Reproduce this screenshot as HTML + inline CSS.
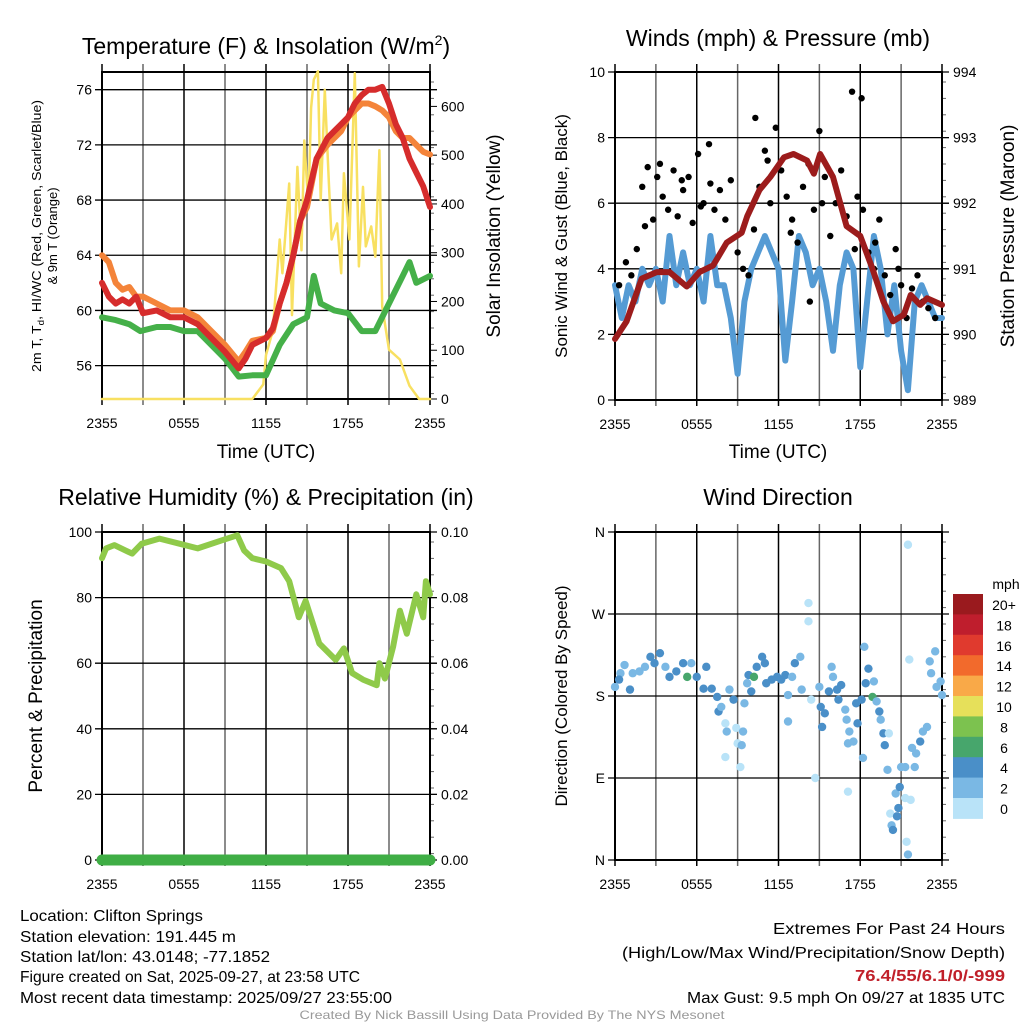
<!DOCTYPE html>
<html><head><meta charset="utf-8"><style>
html,body{margin:0;padding:0;background:#fff}
svg{display:block;font-family:"Liberation Sans",sans-serif}
</style></head><body>
<svg id="c" width="1024" height="1024" viewBox="0 0 1024 1024" xmlns="http://www.w3.org/2000/svg">
<rect width="1024" height="1024" fill="#fff"/>
<g id="g"></g>
<text x="266" y="54" font-size="23" text-anchor="middle">Temperature (F) &amp; Insolation (W/m<tspan font-size="14" dy="-9">2</tspan><tspan dy="9">)</tspan></text>
<text x="778" y="46" font-size="23" text-anchor="middle">Winds (mph) &amp; Pressure (mb)</text>
<text x="266" y="505" font-size="23" text-anchor="middle">Relative Humidity (%) &amp; Precipitation (in)</text>
<text x="778" y="505" font-size="23" text-anchor="middle">Wind Direction</text>
<text font-size="13" text-anchor="middle" transform="translate(41,236) rotate(-90)" textLength="272" lengthAdjust="spacingAndGlyphs">2m T, T<tspan font-size="9" dy="3">d</tspan><tspan dy="-3">, HI/WC (Red, Green, Scarlet/Blue)</tspan></text>
<text font-size="13" text-anchor="middle" transform="translate(57,236) rotate(-90)">&amp; 9m T (Orange)</text>
<text font-size="19" text-anchor="middle" transform="translate(500,236) rotate(-90)">Solar Insolation (Yellow)</text>
<text font-size="17" text-anchor="middle" transform="translate(567,236) rotate(-90)">Sonic Wind &amp; Gust (Blue, Black)</text>
<text font-size="19" text-anchor="middle" transform="translate(1014,236) rotate(-90)">Station Pressure (Maroon)</text>
<text font-size="19" text-anchor="middle" transform="translate(42,696) rotate(-90)">Percent &amp; Precipitation</text>
<text font-size="17" text-anchor="middle" transform="translate(567,696) rotate(-90)">Direction (Colored By Speed)</text>
<text x="266" y="458" font-size="19" text-anchor="middle">Time (UTC)</text>
<text x="778" y="458" font-size="19" text-anchor="middle">Time (UTC)</text>
<g font-size="16">
<text x="20" y="921" textLength="183" lengthAdjust="spacingAndGlyphs">Location: Clifton Springs</text>
<text x="20" y="942" textLength="216" lengthAdjust="spacingAndGlyphs">Station elevation: 191.445 m</text>
<text x="20" y="962" textLength="250" lengthAdjust="spacingAndGlyphs">Station lat/lon: 43.0148; -77.1852</text>
<text x="20" y="982" textLength="340" lengthAdjust="spacingAndGlyphs">Figure created on Sat, 2025-09-27, at 23:58 UTC</text>
<text x="20" y="1003" textLength="372" lengthAdjust="spacingAndGlyphs">Most recent data timestamp: 2025/09/27 23:55:00</text>
</g>
<g font-size="16" text-anchor="end">
<text x="1005" y="934" textLength="232" lengthAdjust="spacingAndGlyphs">Extremes For Past 24 Hours</text>
<text x="1005" y="958" textLength="383" lengthAdjust="spacingAndGlyphs">(High/Low/Max Wind/Precipitation/Snow Depth)</text>
<text x="1005" y="981" fill="#c0202a" font-weight="bold" textLength="150" lengthAdjust="spacingAndGlyphs">76.4/55/6.1/0/-999</text>
<text x="1005" y="1003" textLength="318" lengthAdjust="spacingAndGlyphs">Max Gust: 9.5 mph On 09/27 at 1835 UTC</text>
</g>
<text x="512" y="1019" font-size="12" fill="#999" text-anchor="middle" textLength="425" lengthAdjust="spacingAndGlyphs">Created By Nick Bassill Using Data Provided By The NYS Mesonet</text>
</svg>
<script>
const tempT=[0,0.5,1,1.5,2,2.5,3,4,5,6,7,8,9,10,10.5,11,12,12.5,13,13.5,14,14.5,15,15.7,16.5,17,17.5,18,18.5,19,19.5,20,20.5,21,21.5,22,22.5,23,23.5,24];
const tempRed=[62,61,60.5,60.8,60.5,61,59.8,60,59.5,59.5,59,58,57,55.8,56.5,57.5,58,58.7,60.5,62,64,66.5,68,71,72.5,73,73.5,74,75,75.6,76,76,76.2,75,73.5,72.5,71,70,69,67.5];
const tempOrange=[64,63.5,62,61.5,61.7,61,61,60.5,60,60,59.5,58.5,57.5,56.3,57,57.8,58,58.5,60.5,62,64,66.5,67.5,71,72,72.5,73,74,74.5,75,75,74.8,74.5,74,73,72.5,72.5,72,71.5,71.3];
const greenT=[0,1,2,2.8,4,5,6,7,8,9,10,11,12,13,14,15,15.5,16,17,18,19,20,21,22,22.5,23,24];
const tempGreen=[59.5,59.3,59,58.5,58.8,58.8,58.5,58.5,57.5,56.5,55.2,55.3,55.3,57.5,59,59.5,62.5,60.5,60,59.8,58.5,58.5,60.5,62.5,63.5,62,62.5];
const solarT=[0,11.0,11.8,12.0,12.5,13.0,13.2,13.7,13.9,14.3,14.6,14.8,15.1,15.3,15.5,15.8,16.0,16.3,16.6,16.8,17.2,17.5,17.7,18.1,18.5,18.8,19.1,19.3,19.7,20.0,20.3,20.5,21.0,21.8,22.5,23.2,24];
const solarV=[0,0,30,90,140,327,258,442,172,476,305,530,395,597,655,672,408,634,442,327,360,258,463,327,668,272,435,313,354,292,510,190,101,81,27,0,0];
const windT=[];for(let i=0;i<49;i++)windT.push(i*0.5);
const windV=[3.5,2.5,3.5,3,4,3.5,4,3,5,3.5,4.5,3.5,4,3,5,3.5,3.5,2.5,0.8,3,4,4.5,5,4.5,4,1.2,3,5,4.5,3.5,4,3,1.5,3.5,4.5,4,1,3,5,4,2,3.5,1.5,0.3,3,3.5,3,2.5,2.5];
const gustT=[0.3,0.8,1.2,1.6,2.0,2.4,2.8,3.1,3.5,3.9,4.3,4.6,5.0,5.4,5.7,6.1,6.5,6.9,7.3,7.7,8.1,8.5,9.0,9.4,9.8,10.2,10.6,11.0,11.4,11.8,12.2,12.6,13.0,13.4,13.8,14.2,14.6,15.0,15.4,15.8,16.2,16.6,17.0,17.4,17.8,18.2,18.6,19.0,19.4,19.8,20.2,20.6,21.0,21.4,21.8,22.2,22.6,23.0,23.5,2.2,3.3,4.9,6.3,7.0,10.3,11.2,12.9,14.3,15.2,17.6,18.1,19.1,20.8];
const gustV=[3.5,4.2,3.8,4.6,6.5,7.1,5.5,6.8,6.2,5.8,7.0,5.6,6.4,6.8,5.4,7.5,6.0,7.8,5.8,6.4,5.5,6.7,4.5,4.0,3.8,5.2,6.5,7.6,6.0,8.3,7.0,6.2,5.5,4.8,6.5,7.2,5.8,8.2,6.8,5.0,6.0,7.0,5.6,9.4,6.2,5.8,4.5,4.0,5.5,3.8,3.2,4.6,3.5,2.5,3.4,3.8,3.0,2.8,2.5,5.3,7.2,6.7,5.9,6.6,8.6,7.3,5.1,3.0,6.0,4.6,9.2,4.8,4.0];
const presT=[0,0.85,1.96,3.06,4.0,5.26,6.2,7.2,8.2,9.3,9.7,10.6,11.4,12.4,13.1,14.1,14.6,15.05,16.0,17.0,18.0,18.9,19.7,20.4,21.2,21.7,22.4,22.9,24];
const presV=[989.93,990.2,990.85,990.95,990.95,990.73,990.95,991.05,991.4,991.55,991.8,992.2,992.4,992.7,992.75,992.65,992.45,992.75,992.4,991.65,991.5,991.0,990.5,990.2,990.3,990.6,990.45,990.55,990.45];
const rhT=[0,0.3,0.9,2.2,2.9,4.2,5.7,7.0,8.8,9.9,10.4,11.0,12.0,13.1,13.7,14.4,14.9,15.9,17.1,17.7,18.3,19.1,20.1,20.3,20.7,21.3,21.8,22.3,23.0,23.5,23.7,24];
const rhV=[92,95,96,93.4,96.4,98,96.4,95,97.5,99,94.4,92,91,89,85,74,79,66,61,64.5,57,55,53.3,60,55.3,65,76,69,81,74,85,81];
const precipT=[0,24];
const precipV=[0,0];
const dirT=[0,0.4,0.3,0.7,1.1,1.3,1.8,2.2,2.6,2.9,3.3,3.7,4.0,4.5,5.0,5.3,5.6,6.0,6.5,6.7,7.1,7.5,7.6,7.8,8.1,8.2,8.1,8.4,8.7,8.9,9.0,9.2,9.3,9.4,9.5,9.7,9.8,10.0,10.2,10.4,10.8,11.0,11.1,11.5,11.9,12.2,12.5,12.7,12.7,13.0,13.2,13.6,13.7,14.2,14.2,14.4,14.7,15.0,15.1,15.2,15.4,15.7,15.9,16.0,16.3,16.4,16.6,16.9,17.0,17.1,17.2,17.1,17.5,17.7,17.8,18.1,18.2,18.3,18.6,18.4,18.9,19.0,19.2,19.4,19.5,19.7,19.8,20.1,20.0,20.2,20.3,20.4,20.6,20.7,20.8,20.9,21.0,21.3,21.3,21.4,21.5,21.5,21.6,21.7,21.8,22.0,22.1,22.4,22.6,22.9,23.1,23.2,23.5,23.6,23.9,24.0];
const dirD=[190,205,198,214,187,205,207,212,223,216,227,212,201,207,216,201,216,201,188,212,188,179,163,168,150,141,113,187,176,145,128,102,126,141,172,194,203,185,201,212,223,216,194,198,201,198,203,181,152,201,216,223,187,282,262,176,90,190,168,146,161,185,212,201,187,176,192,165,154,128,141,75,130,172,150,176,112,234,210,194,179,196,174,163,154,139,126,139,99,51,38,33,73,48,57,80,102,102,68,20,6,346,220,66,123,102,117,130,141,146,218,205,229,190,196,181];
const dirS=[3,3,4.5,3,4.5,3,3,3,4.5,4.5,4.5,3,4.5,4.5,4.5,6.5,3,4.5,4.5,4.5,4.5,4.5,4.5,3,1.5,3,1.5,3,4.5,1.5,1.5,1.5,3,3,3,3,4.5,4.5,6.5,4.5,4.5,4.5,4.5,4.5,4.5,4.5,4.5,3,3,3,4.5,3,3,1.5,1.5,1.5,1.5,3,4.5,4.5,4.5,4.5,3,3,4.5,4.5,4.5,3,3,3,3,1.5,3,4.5,4.5,4.5,3,3,4.5,4.5,6.5,3,3,4.5,3,4.5,4.5,1.5,3,1.5,3,4.5,3,4.5,4.5,4.5,3,3,1.5,1.5,3,1.5,1.5,1.5,3,3,3,4.5,3,3,3,3,3,3,3,3];
const cbLabels=["20+","18","16","14","12","10","8","6","4","2","0"];
const cbColors=["#9a1a1e","#bf1e2d","#e03a2e","#f26a2c","#f9a948","#e6e05a","#7cc24f","#47a66c","#4a8fc8","#7ab8e4","#b9e3f8"];
const xTickLabels=["2355","0555","1155","1755","2355"];

const NS="http://www.w3.org/2000/svg";
const G=document.getElementById('g');
function mk(tag,at,parent){const e=document.createElementNS(NS,tag);for(const k in at)e.setAttribute(k,at[k]);(parent||G).appendChild(e);return e;}
function lin(d0,d1,r0,r1){return v=>r0+(v-d0)*(r1-r0)/(d1-d0);}
function txt(s,x,y,anchor,size,name){const t=mk('text',{x:x,y:y,'text-anchor':anchor,'font-size':size});t.textContent=s;return t;}

function frame(L,T,R,B,name,yTicks,yS,yLab,rTicks,rS,rLab){
  const g=mk('g',{});
  
  
  const xs=lin(0,24,L,R);
  for(let h=0;h<=24;h+=3){const x=xs(h);const ln=mk('line',{x1:x,y1:T-8,x2:x,y2:B+6,stroke:(h%6==0)?'#000':'#666','stroke-width':1.5},g);}
  yTicks.forEach((v,i)=>{const y=yS(v);const ln=mk('line',{x1:L-7,y1:y,x2:R+7,y2:y,stroke:'#000','stroke-width':1.3},g);txt(yLab[i],L-10,y+5,'end',14,'y-tick-label');});
  if(rTicks)rTicks.forEach((v,i)=>{const y=rS(v);const ln=mk('line',{x1:R,y1:y,x2:R+7,y2:y,stroke:'#000'},g);txt(rLab[i],R+11,y+5,'start',14,'right-tick-label');});
  for(let y=T+10;y<B;y+=16.4){const m=mk('line',{x1:R,y1:y,x2:R+4,y2:y,stroke:'#666'},g);}
  xTickLabels.forEach((s,i)=>txt(s,xs(i*6),B+29,'middle',14,'x-tick-label'));
  const r=mk('rect',{x:L,y:T,width:R-L,height:B-T,fill:'none',stroke:'#000','stroke-width':2},g);
  
  return xs;
}
function path(xs,ys,T,V,color,w,name){
  let d='';T.forEach((t,i)=>{d+=(i?'L':'M')+xs(t).toFixed(1)+','+ys(V[i]).toFixed(1);});
  const p=mk('path',{d:d,fill:'none',stroke:color,'stroke-width':w,'stroke-linejoin':'round','stroke-linecap':'round'});
  
}

{const L=102,T=72,R=430,B=399;
 const yS=lin(56,76,365.6,89.7), sS=lin(0,600,B,106.4);
 const xs=frame(L,T,R,B,'temperature-panel',[56,60,64,68,72,76],yS,["56","60","64","68","72","76"],[0,100,200,300,400,500,600],sS,["0","100","200","300","400","500","600"]);
 path(xs,sS,solarT,solarV,'#f8e061',2.5,'solar-insolation-line');
 path(xs,yS,greenT,tempGreen,'#45b049',6,'dewpoint-line');
 path(xs,yS,tempT,tempOrange,'#f4843a',6,'9m-temp-line');
 path(xs,yS,tempT,tempRed,'#d62c2c',6,'2m-temp-line');
}
{const L=615,T=72,R=942,B=400;
 const yS=lin(0,10,B,T), pS=lin(989,994,B,T);
 const xs=frame(L,T,R,B,'wind-panel',[0,2,4,6,8,10],yS,["0","2","4","6","8","10"],[989,990,991,992,993,994],pS,["989","990","991","992","993","994"]);
 path(xs,yS,windT,windV,'#559bd4',6,'sonic-wind-line');
 gustT.forEach((t,i)=>{const c=mk('circle',{cx:xs(t),cy:yS(gustV[i]),r:3.2,fill:'#000'});});
 path(xs,pS,presT,presV,'#9c1c1c',6,'pressure-line');
}
{const L=102,T=532,R=430,B=860;
 const yS=lin(0,100,B,T), pS=lin(0,0.1,B,T);
 const xs=frame(L,T,R,B,'humidity-panel',[0,20,40,60,80,100],yS,["0","20","40","60","80","100"],[0,0.02,0.04,0.06,0.08,0.10],pS,["0.00","0.02","0.04","0.06","0.08","0.10"]);
 path(xs,yS,rhT,rhV,'#8fca4a',6,'relative-humidity-line');
 path(xs,pS,precipT,precipV,'#3fae45',11,'precipitation-line');
}
{const L=615,T=532,R=942,B=860;
 const yS=lin(0,360,B,T);
 const xs=frame(L,T,R,B,'wind-direction-panel',[0,90,180,270,360],yS,["N","E","S","W","N"]);
 function col(s){const idx=Math.min(10,Math.floor(s/2));return cbColors[10-idx];}
 dirT.forEach((t,i)=>{const c=mk('circle',{cx:xs(t),cy:yS(dirD[i]),r:4.2,fill:col(dirS[i])});});
 txt('mph',1006,589,'middle',14,'colorbar-unit');
 cbLabels.forEach((s,i)=>{const y=594+i*20.4;const r=mk('rect',{x:953,y:y,width:30,height:20.9,fill:cbColors[i]});txt(s,1004,y+16,'middle',14,'colorbar-label');});
}
</script>
</body></html>
